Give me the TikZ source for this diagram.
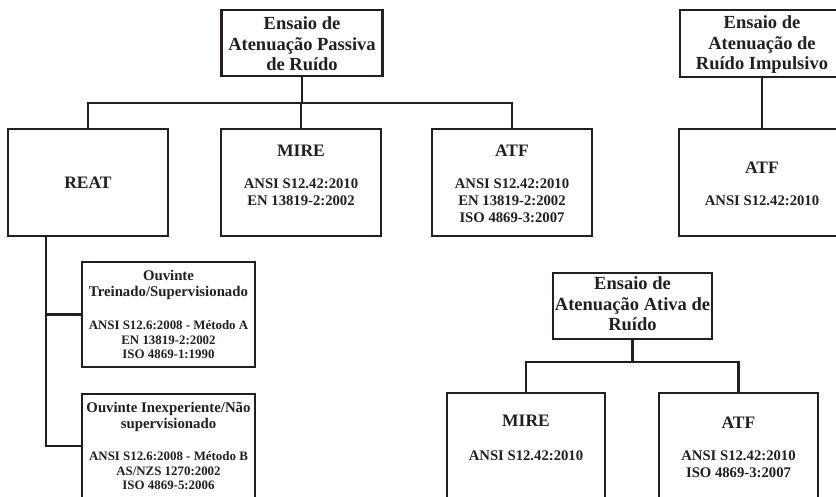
\documentclass[tikz,border=0pt]{standalone}
\usepackage{fontspec}
\setmainfont{Liberation Serif}
\definecolor{ink}{HTML}{231F20}
\begin{document}
\begin{tikzpicture}[x=1pt,y=-1pt,
  box/.style={draw=ink, line width=2.6pt, rectangle, inner sep=0pt},
  conn/.style={draw=ink, line width=2.3pt},
  txt/.style={text=ink, align=center, inner sep=0pt},
  ttl/.style={txt, font=\fontsize{18.5}{20.5}\selectfont\bfseries},
  hdr/.style={txt, font=\fontsize{17.5}{20}\selectfont\bfseries},
  stdtxt/.style={txt, font=\fontsize{14.7}{17}\selectfont\bfseries},
  otl/.style={txt, font=\fontsize{14.8}{16.3}\selectfont\bfseries},
  ostd/.style={txt, font=\fontsize{12.9}{14.5}\selectfont\bfseries}]
\useasboundingbox (0,0) rectangle (836,497);
\fill[white] (0,0) rectangle (836,497);
\begin{scope}
\clip (0,0) rectangle (836,497);
% boxes
\node[box, minimum width=161pt, minimum height=66pt] (passiva) at (302,43) {};
\node[box, minimum width=164pt, minimum height=67pt] (impulsivo) at (762,43.5) {};
\node[box, minimum width=160pt, minimum height=107pt] (reat) at (88,182.5) {};
\node[box, minimum width=160pt, minimum height=107pt] (mire1) at (301,182.5) {};
\node[box, minimum width=160pt, minimum height=107pt] (atf1) at (512,182.5) {};
\node[box, minimum width=166pt, minimum height=107pt] (atf2) at (762,182.5) {};
\node[box, minimum width=173pt, minimum height=105pt] (ouv1) at (168.5,314.5) {};
\node[box, minimum width=173pt, minimum height=104pt] (ouv2) at (168.5,446) {};
\node[box, minimum width=159pt, minimum height=66pt] (ativa) at (632.5,306) {};
\node[box, minimum width=158pt, minimum height=108pt] (mire2) at (526,447) {};
\node[box, minimum width=159pt, minimum height=108pt] (atf3) at (738.5,447) {};
% connectors
\coordinate (bus1) at (0,103);
\coordinate (spine) at (46,0);
\coordinate (bus2) at (0,362);
\draw[conn] (passiva.south) -- (passiva.south |- bus1);
\draw[conn] (reat.north) -- (reat.north |- bus1) -- (atf1.north |- bus1) -- (atf1.north);
\draw[conn] (mire1.north) -- (mire1.north |- bus1);
\draw[conn] (impulsivo.south) -- (atf2.north);
\draw[conn] (reat.south -| spine) -- (spine |- ouv2.west) -- (ouv2.west);
\draw[conn] (spine |- ouv1.west) -- (ouv1.west);
\draw[conn] (ativa.south) -- (ativa.south |- bus2);
\draw[conn] (mire2.north) -- (mire2.north |- bus2) -- (atf3.north |- bus2) -- (atf3.north);
% texts
\node[ttl] (t-passiva) at (302,44) {Ensaio de\\Atenuação Passiva\\de Ruído};
\node[ttl] (t-impulsivo) at (762,45) {Ensaio de\\Atenuação de\\Ruído Impulsivo};
\node[hdr] (t-reat) at (88,183) {REAT};
\node[hdr] (t-mire1) at (301,151) {MIRE};
\node[stdtxt] (s-mire1) at (301,192.5) {ANSI S12.42:2010\\EN 13819-2:2002};
\node[hdr] (t-atf1) at (512,151) {ATF};
\node[stdtxt] (s-atf1) at (512,201) {ANSI S12.42:2010\\EN 13819-2:2002\\ISO 4869-3:2007};
\node[hdr] (t-atf2) at (762,168) {ATF};
\node[stdtxt] (s-atf2) at (762,201) {ANSI S12.42:2010};
\node[otl] (t-ouv1) at (168.5,285) {Ouvinte\\Treinado/Supervisionado};
\node[ostd] (s-ouv1) at (168.5,340) {ANSI S12.6:2008 - Método A\\EN 13819-2:2002\\ISO 4869-1:1990};
\node[otl] (t-ouv2) at (168.5,417) {Ouvinte Inexperiente/Não\\supervisionado};
\node[ostd] (s-ouv2) at (168.5,471) {ANSI S12.6:2008 - Método B\\AS/NZS 1270:2002\\ISO 4869-5:2006};
\node[ttl] (t-ativa) at (632.5,304) {Ensaio de\\Atenuação Ativa de\\Ruído};
\node[hdr] (t-mire2) at (526,421) {MIRE};
\node[stdtxt] (s-mire2) at (526,456) {ANSI S12.42:2010};
\node[hdr] (t-atf3) at (738.5,423) {ATF};
\node[stdtxt] (s-atf3) at (738.5,464) {ANSI S12.42:2010\\ISO 4869-3:2007};
\end{scope}
\end{tikzpicture}
\end{document}
